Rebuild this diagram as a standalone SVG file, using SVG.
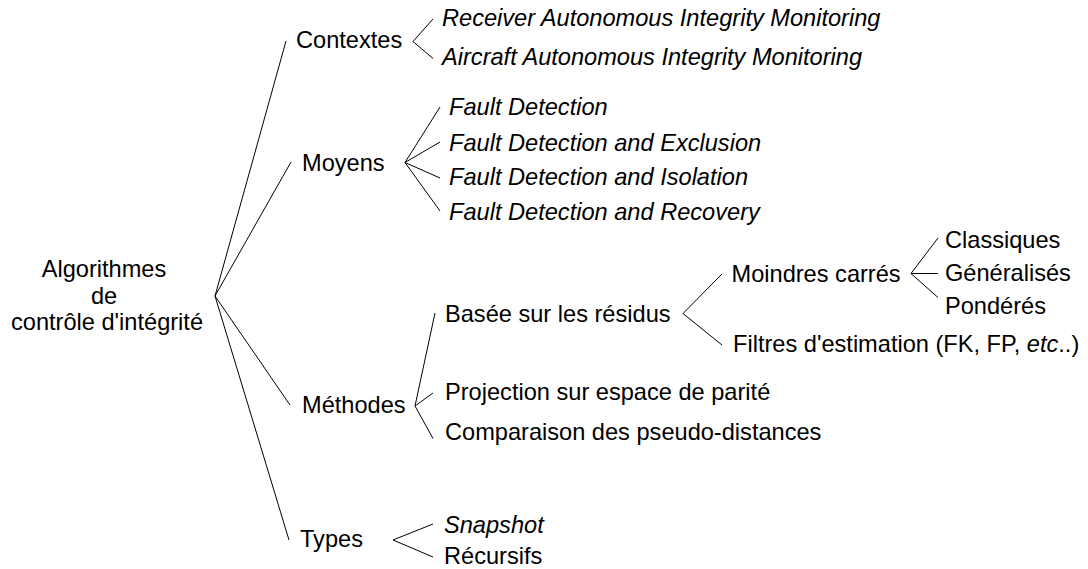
<svg xmlns="http://www.w3.org/2000/svg" width="1088" height="569" viewBox="0 0 1088 569">
<style>
text{font-family:"Liberation Sans",Arial,sans-serif;font-size:23.6px;fill:#000}
.i{font-style:italic}
.c{text-anchor:middle}
#connectors line,#connectors polyline{stroke:#000;stroke-width:1;fill:none}
</style>
<rect width="1088" height="569" fill="#fff"/>
<g id="connectors">
<line x1="215" y1="296" x2="286" y2="41"/>
<line x1="215" y1="296" x2="291" y2="162"/>
<line x1="215" y1="296" x2="290" y2="405"/>
<line x1="215" y1="296" x2="289" y2="540"/>
<polyline points="433,19 413,41.5 433,58.5"/>
<line x1="405" y1="162.5" x2="440" y2="107"/>
<line x1="405" y1="162.5" x2="440" y2="142"/>
<line x1="405" y1="162.5" x2="440" y2="178"/>
<line x1="405" y1="162.5" x2="440" y2="211"/>
<line x1="415" y1="406" x2="435" y2="313"/>
<line x1="415" y1="406" x2="433" y2="393"/>
<line x1="415" y1="406" x2="433" y2="438.5"/>
<polyline points="722,274 683,313.5 722,345"/>
<line x1="911" y1="273.5" x2="938" y2="238"/>
<line x1="911" y1="273.5" x2="938" y2="273.5"/>
<line x1="911" y1="273.5" x2="938" y2="297.5"/>
<polyline points="433,524 393,540 433,557"/>
</g>
<g id="root">
<text class="c" x="104" y="277">Algorithmes</text>
<text class="c" x="104" y="304">de</text>
<text class="c" x="107" y="330">contrôle d'intégrité</text>
</g>
<g id="contextes"><text x="296" y="48">Contextes</text></g>
<g id="raim"><text class="i" x="442" y="26">Receiver Autonomous Integrity Monitoring</text></g>
<g id="aaim"><text class="i" x="442" y="64.5">Aircraft Autonomous Integrity Monitoring</text></g>
<g id="moyens"><text x="302" y="171">Moyens</text></g>
<g id="fd"><text class="i" x="449" y="115">Fault Detection</text></g>
<g id="fde"><text class="i" x="449" y="150.5">Fault Detection and Exclusion</text></g>
<g id="fdi"><text class="i" x="449" y="185">Fault Detection and Isolation</text></g>
<g id="fdr"><text class="i" x="449" y="220">Fault Detection and Recovery</text></g>
<g id="methodes"><text x="302" y="413">Méthodes</text></g>
<g id="basee"><text x="445" y="321.5">Basée sur les résidus</text></g>
<g id="moindres"><text x="731.5" y="281.5">Moindres carrés</text></g>
<g id="classiques"><text x="945" y="247.5">Classiques</text></g>
<g id="generalises"><text x="945" y="281">Généralisés</text></g>
<g id="ponderes"><text x="945" y="314">Pondérés</text></g>
<g id="filtres"><text x="733" y="352">Filtres d'estimation (FK, FP, <tspan class="i">etc</tspan>..)</text></g>
<g id="projection"><text x="445" y="400">Projection sur espace de parité</text></g>
<g id="comparaison"><text x="445" y="440">Comparaison des pseudo-distances</text></g>
<g id="types"><text x="300" y="547">Types</text></g>
<g id="snapshot"><text class="i" x="444" y="533">Snapshot</text></g>
<g id="recursifs"><text x="444" y="564">Récursifs</text></g>
</svg>
